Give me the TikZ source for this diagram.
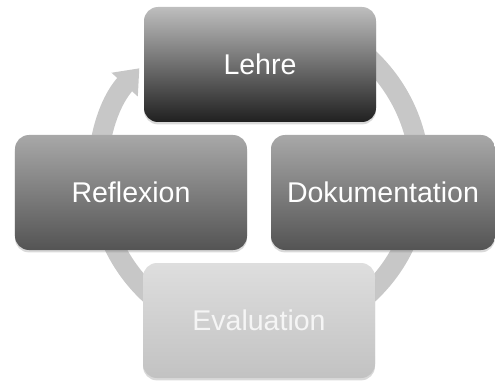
\documentclass[tikz,border=0pt]{standalone}
\usepackage{fontspec}
\setmainfont{Liberation Sans}
\usetikzlibrary{arrows.meta,positioning,shadows}

\definecolor{ringgray}{RGB}{199,199,199}
\definecolor{lehretop}{RGB}{190,190,190}
\definecolor{lehrebot}{RGB}{32,32,32}
\definecolor{sidetop}{RGB}{168,168,168}
\definecolor{sidebot}{RGB}{84,84,84}
\definecolor{evaltop}{RGB}{222,222,222}
\definecolor{evalbot}{RGB}{194,194,194}

\begin{document}
\begin{tikzpicture}[
    font=\fontsize{20.3pt}{24pt}\selectfont,
    stage/.style={rounded corners=0.35cm, minimum width=58mm, minimum height=28.75mm, align=center, text=white,
        drop shadow={shadow xshift=0pt, shadow yshift=-0.6mm, opacity=0.3}},
    darkstage/.style={stage, top color=lehretop, bottom color=lehrebot},
    sidestage/.style={stage, top color=sidetop, bottom color=sidebot},
    lightstage/.style={stage, top color=evaltop, bottom color=evalbot, text=white!96!black},
    cyclering/.style={draw=ringgray, line width=5mm, -{Triangle[width=8.5mm, length=5.5mm]}}
]
\useasboundingbox (0,0) rectangle (12.375,9.575);

% circular arrow behind the stages
\coordinate (hub) at (6.475,5.175);
\draw[cyclering] ([shift={(72:4.025)}]hub) arc[start angle=72, end angle=-222, radius=4.025];

\node[darkstage] (lehre) at (6.5,7.9625) {Lehre};
\node[sidestage] (reflexion) at (3.275,4.7625) {Reflexion};
\node[sidestage, minimum width=56mm] (doku) at (9.575,4.7625) {Dokumentation};
\node[lightstage] (evaluation) at (6.475,1.5625) {Evaluation};
\end{tikzpicture}
\end{document}
